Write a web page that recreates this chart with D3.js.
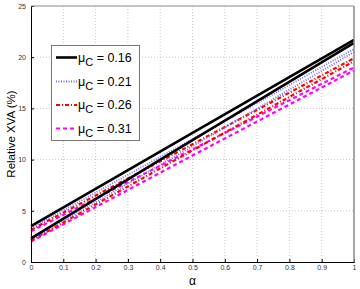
<!DOCTYPE html>
<html>
<head>
<meta charset="utf-8">
<script src="https://cdn.jsdelivr.net/npm/d3@7"></script>
<style>
  body { margin: 0; background: #fff; }
  svg { display: block; font-family: "Liberation Sans", Arial, sans-serif; }
  .grid line { stroke: #c8c8c8; stroke-dasharray: 1 2; }
  .tick text { font-size: 7px; fill: #333; }
</style>
</head>
<body>
<svg id="chart" width="360" height="289"></svg>
<script>
// alpha sample points
const alphas = [0, 0.5, 1];

const muLabels = ["0.16", "0.21", "0.26", "0.31"];
const colors = ["#000000", "#6a6aff", "#ff0000", "#ff00ff"];
const dashes = [null, "1 1.5", "4 2 1 2", "4 3"];
const widths = [2.6, 1.8, 2.2, 2.2];

// two lines per mu (upper / lower), relative XVA in %
const upperVals = [
  [3.5, 12.6, 21.7],
  [3.3, 12.0, 20.8],
  [3.15, 11.5, 19.9],
  [3.0, 11.0, 19.0]
];
const lowerVals = [
  [2.3, 11.9, 21.4],
  [2.2, 11.3, 20.5],
  [2.1, 10.9, 19.6],
  [2.0, 10.4, 18.7]
];

const xTicks = [0, 0.1, 0.2, 0.3, 0.4, 0.5, 0.6, 0.7, 0.8, 0.9, 1];
const yTicks = [0, 5, 10, 15, 20, 25];

const svg = d3.select("#chart");
const mLeft = 31, mRight = 354, mTop = 6, mBottom = 262;

const x = d3.scaleLinear().domain([0, 1]).range([mLeft, mRight]);
const y = d3.scaleLinear().domain([0, 25]).range([mBottom, mTop]);

// grid
svg.append("g").attr("class", "grid")
  .selectAll("line").data(xTicks.slice(1, -1)).enter().append("line")
  .attr("x1", d => x(d)).attr("x2", d => x(d))
  .attr("y1", mTop).attr("y2", mBottom);
svg.append("g").attr("class", "grid")
  .selectAll("line").data(yTicks.slice(1, -1)).enter().append("line")
  .attr("x1", mLeft).attr("x2", mRight)
  .attr("y1", d => y(d)).attr("y2", d => y(d));

// lines, black drawn last so it sits on top
const line = d3.line().x((d, i) => x(alphas[i])).y(d => y(d));
const plot = svg.append("g");
[3, 2, 1, 0].forEach(k => {
  [upperVals[k], lowerVals[k]].forEach(v => {
    plot.append("path")
      .attr("d", line(v))
      .attr("fill", "none")
      .attr("stroke", colors[k])
      .attr("stroke-width", widths[k])
      .attr("stroke-dasharray", dashes[k]);
  });
});

// axes
const xAxis = svg.append("g").attr("transform", `translate(0,${mBottom})`)
  .call(d3.axisBottom(x).tickValues(xTicks).tickSize(-3).tickPadding(3)
    .tickFormat(d => d === 0 || d === 1 ? d3.format("d")(d) : d3.format(".1f")(d)));
xAxis.select(".domain").attr("stroke", "#000");
xAxis.selectAll(".tick line").attr("stroke", "#000");

const yAxis = svg.append("g").attr("transform", `translate(${mLeft},0)`)
  .call(d3.axisLeft(y).tickValues(yTicks).tickSize(-3).tickPadding(5));
yAxis.select(".domain").attr("stroke", "#000");
yAxis.selectAll(".tick line").attr("stroke", "#000");

// top / right border
svg.append("line").attr("x1", mLeft).attr("x2", mRight).attr("y1", mTop).attr("y2", mTop)
  .attr("stroke", "#888").attr("stroke-width", 1);
svg.append("line").attr("x1", mRight).attr("x2", mRight).attr("y1", mTop).attr("y2", mBottom)
  .attr("stroke", "#888").attr("stroke-width", 1.5);

// axis labels
svg.append("text").attr("x", x(0.5)).attr("y", 285)
  .attr("text-anchor", "middle").style("font-size", "12px").text("α");
svg.append("text").attr("transform", `translate(15,${(mTop + mBottom) / 2}) rotate(-90)`)
  .attr("text-anchor", "middle").style("font-size", "11.5px").text("Relative XVA (%)");

// legend
const lg = svg.append("g");
lg.append("rect").attr("x", 51.5).attr("y", 45.5).attr("width", 88).attr("height", 95)
  .attr("fill", "#fff").attr("stroke", "#777").attr("stroke-width", 1);
const rowY = [57.5, 81.5, 105, 128.5];
muLabels.forEach((m, k) => {
  lg.append("line").attr("x1", 56).attr("x2", 77).attr("y1", rowY[k]).attr("y2", rowY[k])
    .attr("stroke", colors[k]).attr("stroke-width", widths[k])
    .attr("stroke-dasharray", dashes[k]);
  const t = lg.append("text").attr("x", 78).attr("y", rowY[k] + 4).style("font-size", "12.5px");
  t.append("tspan").text("μ");
  t.append("tspan").attr("dy", 4).style("font-size", "11px").text("C");
  t.append("tspan").attr("dy", -4).text(" = " + m);
});
</script>
</body>
</html>
